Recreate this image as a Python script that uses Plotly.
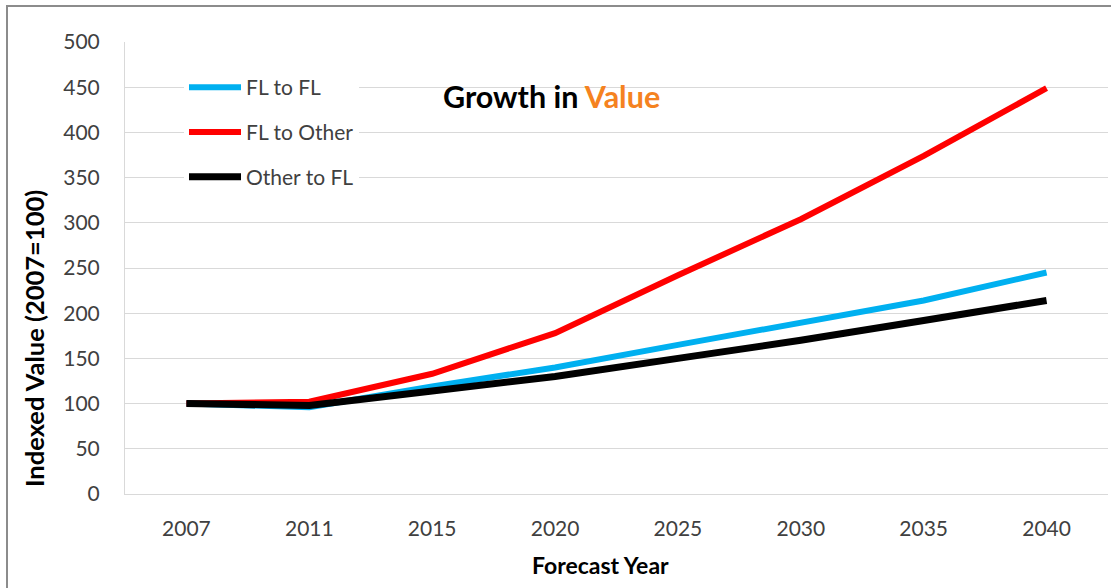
import plotly.graph_objects as go

years = ["2007", "2011", "2015", "2020", "2025", "2030", "2035", "2040"]
fl_to_fl = [100, 96, 119, 140, 165, 190, 214, 245]
fl_to_other = [100, 102, 133, 178, 242, 304, 374, 449]
other_to_fl = [100, 98, 114, 130, 150, 170, 192, 214]
y_ticks = [0, 50, 100, 150, 200, 250, 300, 350, 400, 450, 500]

FONT = "Lato, 'Open Sans', sans-serif"

W, H = 1111, 588
L, R, T, B = 125, 3, 42, 94
PW, PH = W - L - R, H - T - B


def px(x):
    return (x - L) / PW


def py(y):
    return (H - B - y) / PH


fig = go.Figure()
series = [
    ("FL to FL", fl_to_fl, "#00B0F0", 6),
    ("FL to Other", fl_to_other, "#FF0000", 6),
    ("Other to FL", other_to_fl, "#000000", 7),
]
for i, (name, vals, color, w) in enumerate(series):
    fig.add_trace(go.Scatter(
        x=years, y=vals, name=name, mode="lines",
        line=dict(color=color, width=w), legendgroup=str(i),
    ))

fig.update_layout(
    width=W, height=H,
    margin=dict(l=L, r=R, t=T, b=B),
    paper_bgcolor="white", plot_bgcolor="white",
    font=dict(family=FONT, color="#404040", size=21),
    showlegend=True,
    legend=dict(
        x=px(184), y=py(67), xanchor="left", yanchor="top",
        bgcolor="white", font=dict(size=21, color="#404040"),
        tracegroupgap=14.5, itemwidth=52,
    ),
    xaxis=dict(
        type="category", range=[-0.5, 7.5],
        showgrid=False, showline=True, linecolor="#D9D9D9", linewidth=1,
        ticks="", tickfont=dict(size=21, color="#404040"), ticklabelstandoff=16,
    ),
    yaxis=dict(
        range=[0, 500], tickvals=y_ticks, showgrid=True, gridcolor="#D9D9D9", gridwidth=1,
        showline=True, linecolor="#D9D9D9", linewidth=1, zeroline=False,
        ticks="", tickfont=dict(size=21, color="#404040"), ticklabelstandoff=20,
    ),
    annotations=[
        dict(
            text="<b>Growth in <span style='color:#F58220'>Value</span></b>",
            xref="paper", yref="paper", x=px(551), y=py(96),
            xanchor="center", yanchor="middle", showarrow=False,
            font=dict(size=30.5, color="#000000", family=FONT),
        ),
        dict(
            text="<b>Forecast Year</b>",
            xref="paper", yref="paper", x=px(600), y=py(565),
            xanchor="center", yanchor="middle", showarrow=False,
            font=dict(size=23, color="#000000", family=FONT),
        ),
        dict(
            text="<b>Indexed Value (2007=100)</b>",
            xref="paper", yref="paper", x=px(34), y=py(339),
            xanchor="center", yanchor="middle", showarrow=False, textangle=-90,
            font=dict(size=25.5, color="#000000", family=FONT),
        ),
    ],
    shapes=[dict(
        type="rect", xref="paper", yref="paper",
        x0=px(7), x1=px(1125), y0=py(620), y1=py(6),
        line=dict(color="#8C8C8C", width=2), fillcolor="rgba(0,0,0,0)", layer="below",
    )],
)

fig.write_html(
    "out.html",
    config={"displayModeBar": False},
    post_script="document.body.style.margin='0px';document.body.style.overflow='hidden';",
)
